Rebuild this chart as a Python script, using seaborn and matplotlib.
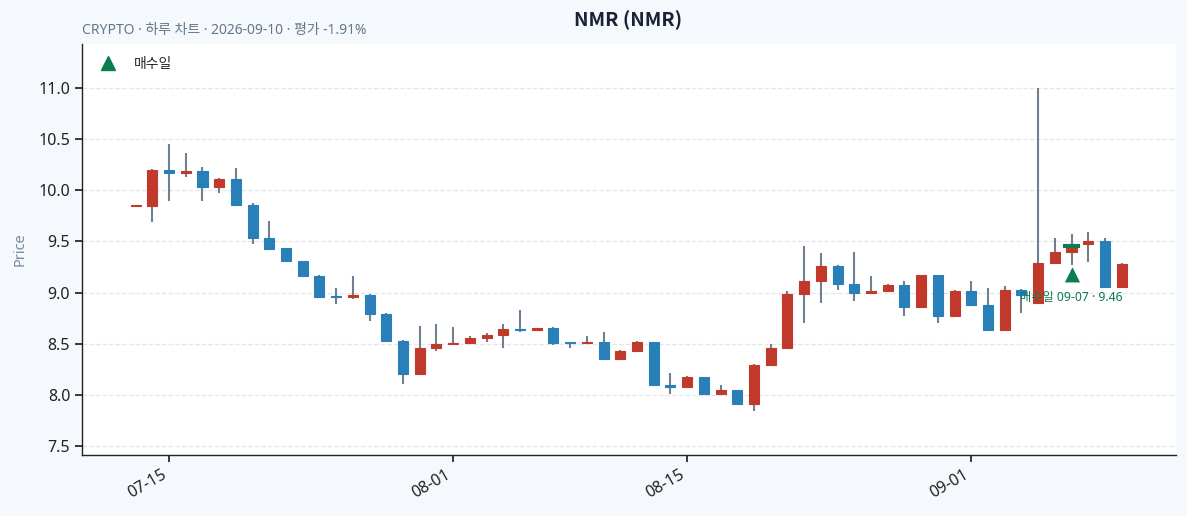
import numpy as np
import pandas as pd
import seaborn as sns
import matplotlib.pyplot as plt
import matplotlib.dates as mdates
from matplotlib.lines import Line2D

# daily OHLC (07-13 .. 09-10)
dates = pd.date_range("2026-07-13", "2026-09-10", freq="D")
opens = [9.85, 9.85, 10.20, 10.17, 10.19, 10.03, 10.11, 9.86, 9.53, 9.44,
         9.31, 9.16, 8.965, 8.955, 8.98, 8.79, 8.53, 8.20, 8.46, 8.495,
         8.505, 8.56, 8.59, 8.64, 8.63, 8.65, 8.515, 8.505, 8.515, 8.355,
         8.43, 8.515, 8.10, 8.075, 8.17, 8.005, 8.045, 7.91, 8.29, 8.455,
         8.99, 9.11, 9.26, 9.08, 8.995, 9.02, 9.07, 8.855, 9.17, 8.77,
         9.02, 8.875, 8.63, 9.03, 8.895, 9.285, 9.40, 9.475, 9.50, 9.055]
closes = [9.855, 10.20, 10.17, 10.19, 10.03, 10.11, 9.86, 9.53, 9.43, 9.31,
          9.16, 8.96, 8.955, 8.98, 8.79, 8.53, 8.20, 8.46, 8.495, 8.505,
          8.56, 8.59, 8.64, 8.63, 8.65, 8.51, 8.505, 8.515, 8.355, 8.43,
          8.515, 8.10, 8.075, 8.17, 8.005, 8.045, 7.91, 8.29, 8.455, 8.99,
          9.11, 9.26, 9.08, 8.995, 9.02, 9.07, 8.855, 9.17, 8.77, 9.02,
          8.875, 8.63, 9.03, 8.975, 9.285, 9.40, 9.45, 9.50, 9.055, 9.28]
highs = [9.86, 10.21, 10.45, 10.36, 10.23, 10.12, 10.22, 9.88, 9.70, 9.44,
         9.31, 9.17, 9.04, 9.16, 8.99, 8.80, 8.54, 8.67, 8.69, 8.66,
         8.58, 8.60, 8.69, 8.83, 8.655, 8.66, 8.52, 8.575, 8.61, 8.435,
         8.525, 8.52, 8.21, 8.18, 8.175, 8.095, 8.05, 8.30, 8.495, 9.02,
         9.46, 9.385, 9.265, 9.40, 9.16, 9.08, 9.11, 9.175, 9.175, 9.025,
         9.11, 9.04, 9.06, 9.035, 11.0, 9.53, 9.57, 9.595, 9.53, 9.29]
lows = [9.85, 9.69, 9.90, 10.13, 9.90, 9.97, 9.86, 9.47, 9.43, 9.30,
        9.16, 8.96, 8.89, 8.94, 8.72, 8.53, 8.11, 8.20, 8.43, 8.49,
        8.50, 8.515, 8.455, 8.61, 8.63, 8.49, 8.46, 8.50, 8.35, 8.35,
        8.43, 8.10, 8.005, 8.075, 8.005, 8.00, 7.91, 7.84, 8.29, 8.455,
        8.70, 8.90, 9.03, 8.915, 8.99, 9.02, 8.77, 8.855, 8.70, 8.77,
        8.875, 8.63, 8.63, 8.805, 8.89, 9.285, 9.265, 9.30, 9.055, 9.055]

buy_date = pd.Timestamp("2026-09-07")
buy_price = 9.46
buy_marker_y = 9.18

df = pd.DataFrame({"date": dates, "open": opens, "high": highs,
                   "low": lows, "close": closes})
df["up"] = df["close"] >= df["open"]

UP = "#c0392b"
DOWN = "#2980b9"
WICK = "#708090"
GREEN = "#0b7d4e"

sns.set_theme(style="white")
plt.rcParams["font.family"] = ["Noto Sans", "Noto Sans CJK KR", "DejaVu Sans"]

fig = plt.figure(figsize=(11.87, 5.16), dpi=100, facecolor="#f5f8fc")
ax = fig.add_axes([0.0691, 0.1182, 0.9216, 0.7965])
ax.set_facecolor("white")

ax.vlines(df["date"], df["low"], df["high"], color=WICK, linewidth=1.5, zorder=2)
colors = np.where(df["up"], UP, DOWN)
bottoms = np.minimum(df["open"], df["close"])
heights = np.maximum(np.abs(df["close"] - df["open"]), 0.008)
ax.bar(df["date"], heights, bottom=bottoms, width=0.6, color=colors,
       edgecolor=colors, linewidth=0.8, zorder=3)

# buy marker
ax.hlines(buy_price, buy_date - pd.Timedelta(hours=12), buy_date + pd.Timedelta(hours=12),
          color=GREEN, linewidth=3, zorder=4)
sns.scatterplot(x=[buy_date], y=[buy_marker_y], marker="^", s=150, color=GREEN,
                edgecolor="white", linewidth=0.8, zorder=5, ax=ax, legend=False)
ax.annotate("매수일 09-07 · 9.46", (buy_date, buy_marker_y), xytext=(0, -12),
            textcoords="offset points", ha="center", va="top", fontsize=8.8,
            color=GREEN, zorder=6)

ax.set_xlim(pd.Timestamp("2026-07-09 19:00"), pd.Timestamp("2026-09-13 06:00"))
ax.set_ylim(7.412, 11.43)
ax.set_yticks([7.5, 8.0, 8.5, 9.0, 9.5, 10.0, 10.5, 11.0])
ax.yaxis.set_major_formatter(plt.FormatStrFormatter("%.1f"))
ax.xaxis.set_major_locator(mdates.DayLocator(bymonthday=[1, 15]))
ax.xaxis.set_major_formatter(mdates.DateFormatter("%m-%d"))
plt.setp(ax.get_xticklabels(), rotation=30, ha="right")
ax.tick_params(axis="both", labelsize=11.5, length=5, color="#222222",
               bottom=True, left=True, labelcolor="#222222")

ax.grid(axis="y", linestyle="--", color="#e6e6e6", linewidth=0.9)
ax.set_axisbelow(True)
sns.despine(ax=ax)
for s in ["left", "bottom"]:
    ax.spines[s].set_color("#222222")
    ax.spines[s].set_linewidth(1.0)

ax.set_ylabel("Price", color="#7a8aa0", fontsize=10.5, labelpad=8)
ax.set_xlabel("")

handle = Line2D([], [], marker="^", color=GREEN, linestyle="none", markersize=10)
ax.legend([handle], ["매수일"], loc="upper left", frameon=False, fontsize=10)

fig.text(0.529, 0.96, "NMR (NMR)", ha="center", va="center", fontsize=14,
         fontweight="bold", color="#1a2233", family=["Noto Sans CJK KR"])
fig.text(0.0691, 0.94, "CRYPTO · 하루 차트 · 2026-09-10 · 평가 -1.91%", ha="left",
         va="center", fontsize=10, color="#667788")

fig.savefig("out.png", dpi=100, facecolor=fig.get_facecolor())
